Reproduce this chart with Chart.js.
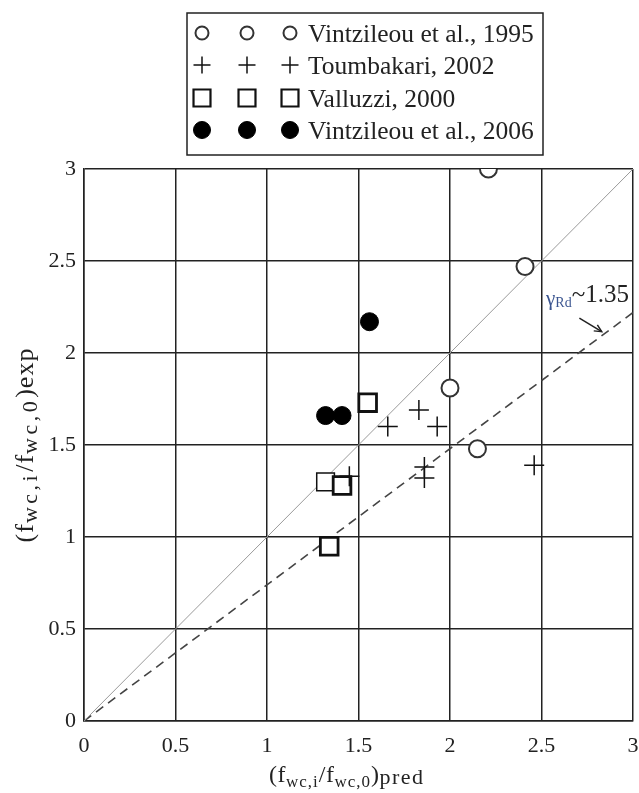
<!DOCTYPE html>
<html>
<head>
<meta charset="utf-8">
<script src="https://cdn.jsdelivr.net/npm/chart.js@4.4.1/dist/chart.umd.min.js"></script>
<style>
  html, body { margin: 0; padding: 0; background: #fff; }
</style>
</head>
<body>
<canvas id="chart" width="639" height="793"></canvas>
<script>
// ── Data ──────────────────────────────────────────────
const xTicks = [0, 0.5, 1, 1.5, 2, 2.5, 3];
const yTicks = [0, 0.5, 1, 1.5, 2, 2.5, 3];

const v1995X = [2.21, 2.41, 2.00, 2.15];
const v1995Y = [3.00, 2.47, 1.81, 1.48];

const toumX = [1.45, 1.66, 1.83, 1.93, 1.86, 1.86, 2.46];
const toumY = [1.33, 1.60, 1.69, 1.60, 1.38, 1.32, 1.39];

const vallX = [1.55, 1.32, 1.41, 1.34];
const vallY = [1.73, 1.30, 1.28, 0.95];

const v2006X = [1.56, 1.32, 1.41];
const v2006Y = [2.17, 1.66, 1.66];

const lineX   = [0, 3];
const equalY  = [0, 3];
const designY = [0, 2.22];

const seriesNames = ["Vintzileou et al., 1995", "Toumbakari, 2002", "Valluzzi, 2000", "Vintzileou et al., 2006"];

// ── Styles ────────────────────────────────────────────
const INK   = "#222";
const SERIF = "'Liberation Serif', 'Times New Roman', serif";
const pts = (xs, ys) => xs.map((x, i) => ({ x, y: ys[i] }));

const markerStyles = [
  { pointStyle: "circle", radius: 8.5, borderWidth: 2,   borderColor: "#333", backgroundColor: "#fff" },
  { pointStyle: "cross",  radius: 10,  borderWidth: 1.5, borderColor: "#111", backgroundColor: "#111" },
  { pointStyle: "rect",   radius: 12.5, borderWidth: 2.5, borderColor: "#111", backgroundColor: "#fff" },
  { pointStyle: "circle", radius: 9,   borderWidth: 1,   borderColor: "#000", backgroundColor: "#000" },
];
// legend markers are a touch smaller than the plotted ones
const legendRadius = [6.5, 8.5, 12, 8.5];

const scatterSet = (label, data, st, extra = {}) => ({
  type: "scatter", label, data,
  pointStyle: st.pointStyle, pointRadius: st.radius, pointHoverRadius: st.radius,
  pointBorderWidth: st.borderWidth, pointBorderColor: st.borderColor, pointBackgroundColor: st.backgroundColor,
  order: 1, ...extra,
});

// ── Legend box (three markers per entry) ──────────────
const legendBox = {
  id: "legendBox",
  afterDraw(chart) {
    const ctx = chart.ctx;
    ctx.save();
    ctx.strokeStyle = INK; ctx.lineWidth = 1.5;
    ctx.strokeRect(187, 13, 356, 142);
    const rowsY = [33, 65, 98, 130];
    const colsX = [202, 247, 290];
    seriesNames.forEach((name, i) => {
      const st = markerStyles[i];
      colsX.forEach((cx) => {
        ctx.fillStyle = st.backgroundColor; ctx.strokeStyle = st.borderColor; ctx.lineWidth = Math.min(st.borderWidth, 2.2);
        Chart.helpers.drawPoint(ctx, { pointStyle: st.pointStyle, radius: legendRadius[i], borderWidth: st.borderWidth, rotation: 0 }, cx, rowsY[i]);
      });
      ctx.fillStyle = INK; ctx.font = `25.5px ${SERIF}`; ctx.textBaseline = "alphabetic"; ctx.textAlign = "left";
      ctx.fillText(name, 308, rowsY[i] + 9);
    });
    ctx.restore();
  },
};

// ── Rich text helper (subscripts, spaced letters) ─────
function drawRich(ctx, parts, x, y) {
  parts.forEach((p) => {
    ctx.font = `${p.size}px ${SERIF}`;
    for (const ch of p.t) {
      ctx.fillText(ch, x, y + (p.dy || 0));
      x += ctx.measureText(ch).width + (p.gap || 0);
    }
  });
}
function richWidth(ctx, parts) {
  let w = 0;
  parts.forEach((p) => {
    ctx.font = `${p.size}px ${SERIF}`;
    for (const ch of p.t) w += ctx.measureText(ch).width + (p.gap || 0);
  });
  return w;
}

const xTitle = [
  { t: "(f", size: 24, gap: 0.5 }, { t: "wc,i", size: 17, dy: 5, gap: 1 }, { t: "/f", size: 24, gap: 0.5 },
  { t: "wc,0", size: 17, dy: 5, gap: 1 }, { t: ")", size: 24, gap: 0.5 }, { t: "pred", size: 22, dy: 2, gap: 1.5 },
];
const yTitle = [
  { t: "(f", size: 26, gap: 1 }, { t: "wc,i", size: 22, dy: 4, gap: 3.5 }, { t: "/f", size: 26, gap: 1 },
  { t: "wc,0", size: 22, dy: 4, gap: 3.5 }, { t: ")exp", size: 26, gap: 1 },
];

const axisTitles = {
  id: "axisTitles",
  afterDraw(chart) {
    const ctx = chart.ctx;
    ctx.save();
    ctx.fillStyle = INK; ctx.textBaseline = "alphabetic"; ctx.textAlign = "left";
    drawRich(ctx, xTitle, 269, 782);
    ctx.translate(33, 445);
    ctx.rotate(-Math.PI / 2);
    drawRich(ctx, yTitle, -richWidth(ctx, yTitle) / 2, 0);
    ctx.restore();
  },
};

// ── γRd annotation with arrow ─────────────────────────
const annot = { textX: 2.525, textY: 2.262, fromX: 2.707, fromY: 2.19, toX: 2.829, toY: 2.116 };

const gammaNote = {
  id: "gammaNote",
  afterDatasetsDraw(chart) {
    const { ctx, scales: { x, y } } = chart;
    ctx.save();
    let tx = x.getPixelForValue(annot.textX);
    const ty = y.getPixelForValue(annot.textY);
    ctx.textBaseline = "alphabetic"; ctx.textAlign = "left";
    ctx.fillStyle = "#3b5590";
    ctx.font = `21px ${SERIF}`; ctx.fillText("γ", tx, ty); tx += ctx.measureText("γ").width;
    ctx.font = `14px ${SERIF}`; ctx.fillText("Rd", tx, ty + 2); tx += ctx.measureText("Rd").width;
    ctx.fillStyle = INK;
    ctx.font = `25px ${SERIF}`; ctx.fillText("~1.35", tx, ty - 3);

    const x0 = x.getPixelForValue(annot.fromX), y0 = y.getPixelForValue(annot.fromY);
    const x1 = x.getPixelForValue(annot.toX),   y1 = y.getPixelForValue(annot.toY);
    ctx.strokeStyle = INK; ctx.lineWidth = 1.5;
    ctx.beginPath(); ctx.moveTo(x0, y0); ctx.lineTo(x1, y1); ctx.stroke();
    const a = Math.atan2(y1 - y0, x1 - x0), h = 8;
    ctx.beginPath();
    ctx.moveTo(x1 - h * Math.cos(a - 0.45), y1 - h * Math.sin(a - 0.45));
    ctx.lineTo(x1, y1);
    ctx.lineTo(x1 - h * Math.cos(a + 0.45), y1 - h * Math.sin(a + 0.45));
    ctx.stroke();
    ctx.restore();
  },
};

// ── Chart ─────────────────────────────────────────────
const tickFont = { family: SERIF, size: 22 };

new Chart(document.getElementById("chart"), {
  type: "scatter",
  data: {
    datasets: [
      scatterSet(seriesNames[0], pts(v1995X, v1995Y), markerStyles[0]),
      scatterSet(seriesNames[1], pts(toumX, toumY), markerStyles[1]),
      {
        ...scatterSet(seriesNames[2], pts(vallX, vallY), markerStyles[2]),
        pointBorderWidth: [2.8, 1.5, 2.8, 2.8],
      },
      scatterSet(seriesNames[3], pts(v2006X, v2006Y), markerStyles[3]),
      {
        type: "line", label: "equal", data: pts(lineX, equalY), order: 10,
        borderColor: "#9a9a9a", borderWidth: 1, pointRadius: 0, fill: false,
      },
      {
        type: "line", label: "design", data: pts(lineX, designY), order: 10,
        borderColor: "#444", borderWidth: 1.6, borderDash: [9, 6], pointRadius: 0, fill: false,
      },
    ],
  },
  options: {
    responsive: false,
    devicePixelRatio: 1,
    animation: false,
    layout: { autoPadding: false, padding: { top: 169, right: 6, left: 0, bottom: 0 } },
    plugins: { legend: { display: false }, tooltip: { enabled: false } },
    scales: {
      x: {
        type: "linear", min: 0, max: 3,
        afterBuildTicks: (s) => { s.ticks = xTicks.map((v) => ({ value: v })); },
        afterFit: (s) => { s.height = 72; s.paddingLeft = 0; s.paddingRight = 0; },
        grid: { color: INK, lineWidth: 1.5, drawTicks: false },
        border: { color: INK, width: 1.5 },
        ticks: { font: tickFont, color: INK, padding: 12, maxRotation: 0, callback: (v) => String(v) },
      },
      y: {
        type: "linear", min: 0, max: 3,
        afterBuildTicks: (s) => { s.ticks = yTicks.map((v) => ({ value: v })); },
        afterFit: (s) => { s.width = 84; s.paddingTop = 0; s.paddingBottom = 0; },
        grid: { color: INK, lineWidth: 1.5, drawTicks: false },
        border: { color: INK, width: 1.5 },
        ticks: { font: tickFont, color: INK, padding: 8, callback: (v) => String(v) },
      },
    },
  },
  plugins: [legendBox, axisTitles, gammaNote],
});
</script>
</body>
</html>
